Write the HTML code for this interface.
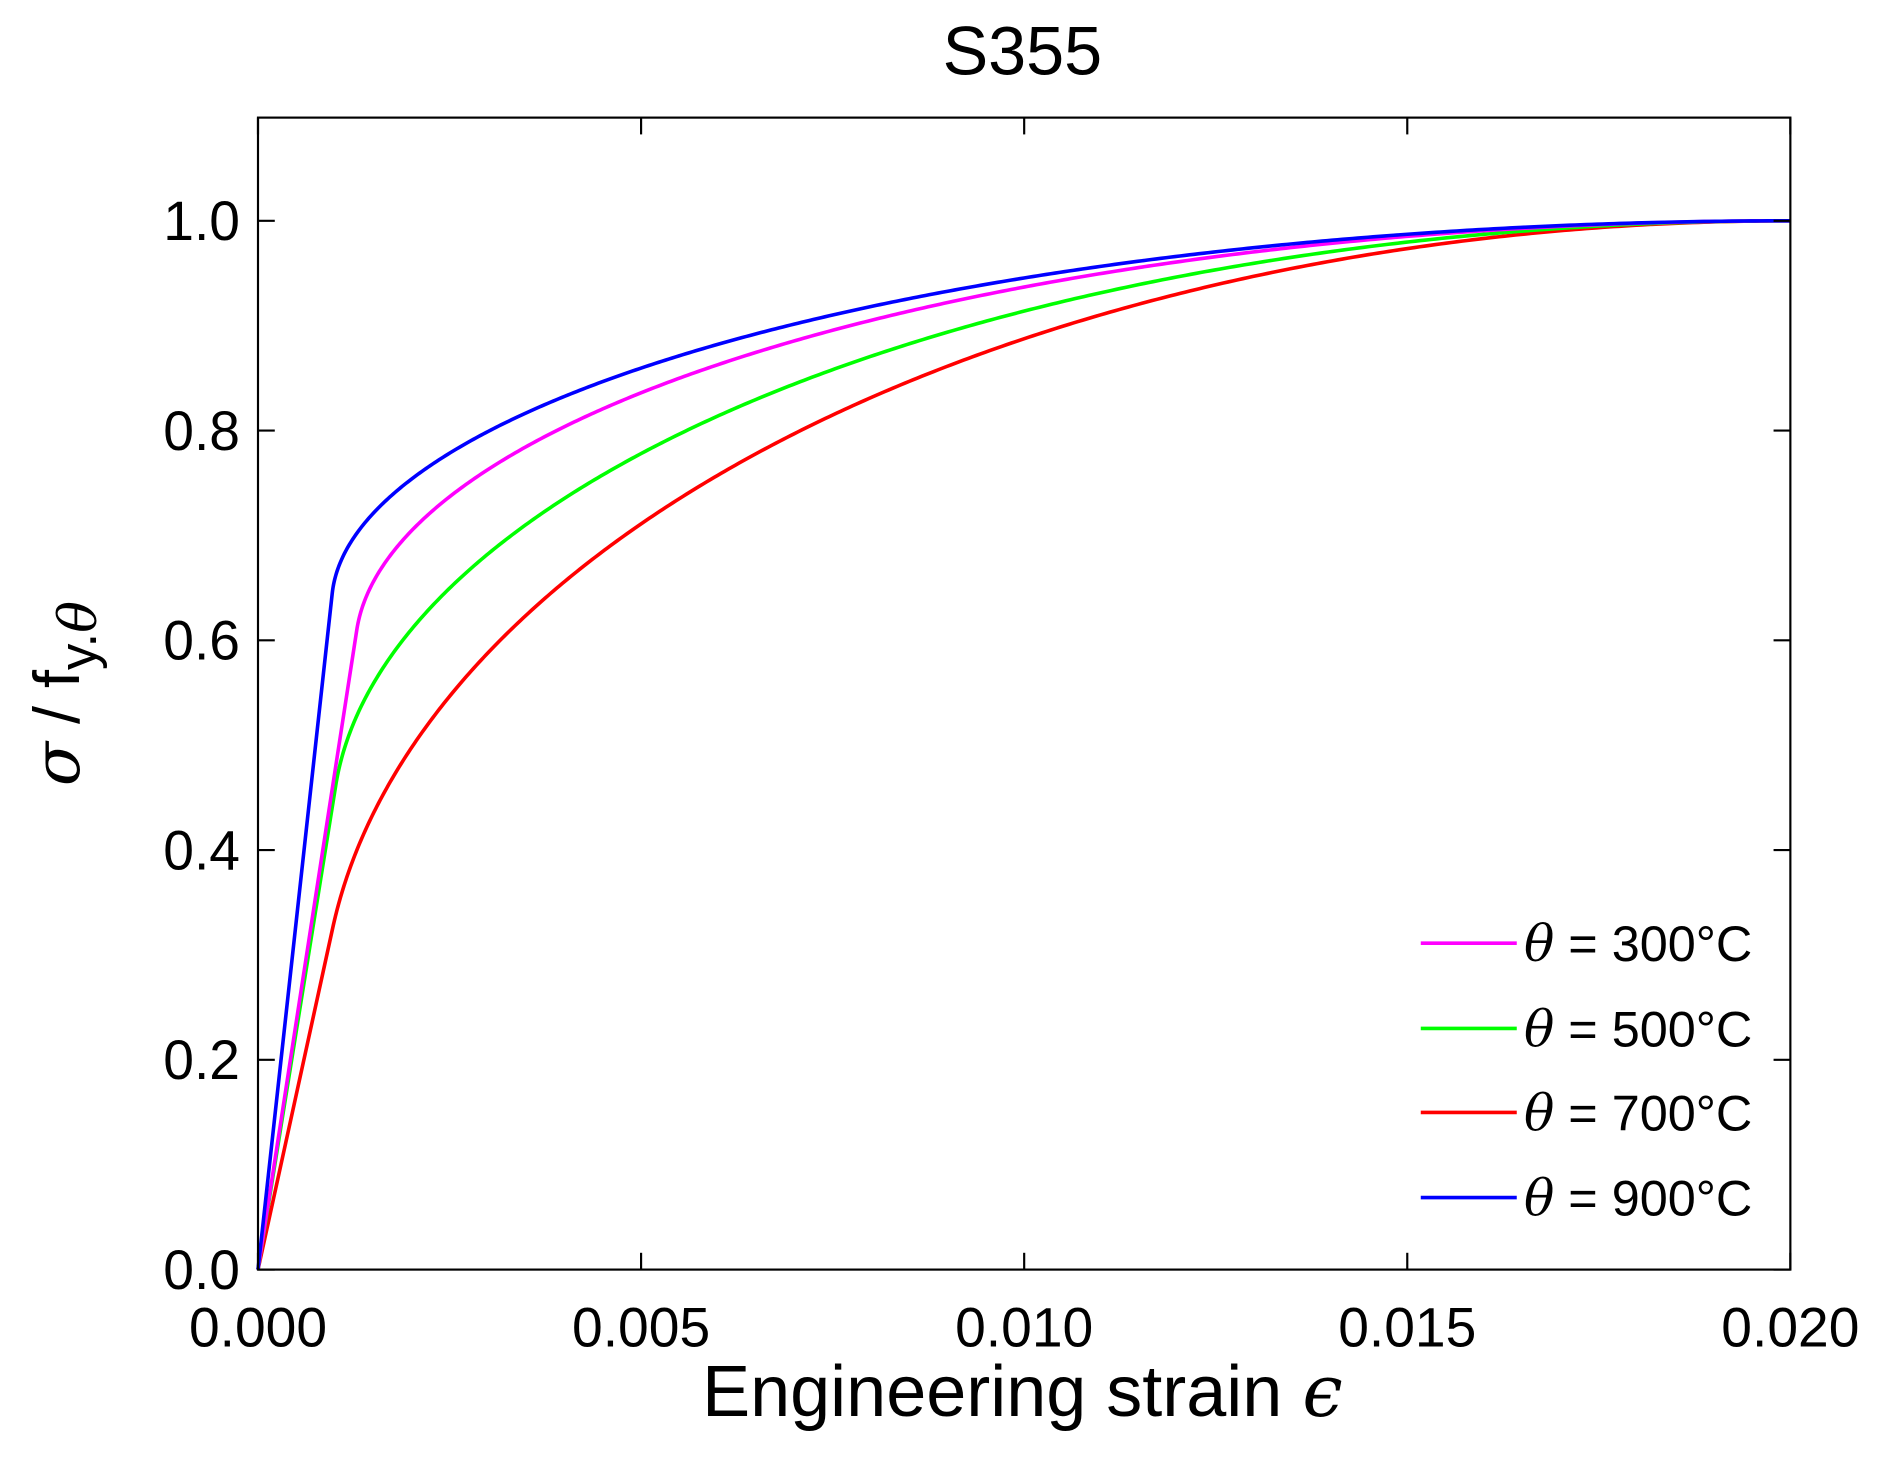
<!DOCTYPE html>
<html><head><meta charset="utf-8"><style>html,body{margin:0;padding:0;background:#fff}svg{display:block}</style></head>
<body>
<svg id="s" width="1880" height="1479" viewBox="0 0 1566.7 1232.5" xmlns="http://www.w3.org/2000/svg" font-family="Liberation Sans, DejaVu Sans, sans-serif">
<rect x="0" y="0" width="1566.7" height="1232.5" fill="#fff"/>
<text x="852" y="62" font-size="57" text-anchor="middle" textLength="133" lengthAdjust="spacingAndGlyphs">S355</text>
<g id="curves" fill="none" stroke-width="3"></g>
<rect x="215" y="98" width="1277" height="960" fill="none" stroke="#000" stroke-width="1.8"/>
<g id="ticks" stroke="#000" stroke-width="1.8"></g>
<g font-size="46" text-anchor="end" id="yl"></g>
<g font-size="46" text-anchor="middle" id="xl"></g>
<text x="852" y="1180" font-size="60" text-anchor="middle">Engineering strain <tspan font-family="DejaVu Serif, serif" font-style="italic">ϵ</tspan></text>
<text transform="translate(66,578) rotate(-90)" font-size="54" text-anchor="middle"><tspan font-family="DejaVu Serif, serif" font-style="italic">σ</tspan> / f<tspan dy="14" font-size="44">y.</tspan><tspan font-size="44" font-family="DejaVu Serif, serif" font-style="italic">θ</tspan></text>
<g stroke-width="3">
<line x1="1184" y1="786" x2="1264" y2="786" stroke="#ff00ff"/>
<line x1="1184" y1="857" x2="1264" y2="857" stroke="#00ff00"/>
<line x1="1184" y1="927" x2="1264" y2="927" stroke="#ff0000"/>
<line x1="1184" y1="998" x2="1264" y2="998" stroke="#0000ff"/>
</g>
<g font-size="42">
<text x="1270" y="801"><tspan font-family="DejaVu Serif, serif" font-style="italic">θ</tspan> = 300°C</text>
<text x="1270" y="872"><tspan font-family="DejaVu Serif, serif" font-style="italic">θ</tspan> = 500°C</text>
<text x="1270" y="942"><tspan font-family="DejaVu Serif, serif" font-style="italic">θ</tspan> = 700°C</text>
<text x="1270" y="1013"><tspan font-family="DejaVu Serif, serif" font-style="italic">θ</tspan> = 900°C</text>
</g>
</svg>
<script>
var NS="http://www.w3.org/2000/svg";
function X(e){return 215+e/0.02*1277;}
function Y(s){return 1058-s*874;}
function el(t,a,p){var e=document.createElementNS(NS,t);for(var k in a)e.setAttribute(k,a[k]);p.appendChild(e);return e;}
var series=[["#ff0000",0.326,334],["#00ff00",0.4615,455],["#ff00ff",0.61,473],["#0000ff",0.645,665.5]];
var g=document.getElementById("curves");
series.forEach(function(sr){
 var fp=sr[1],E=sr[2],ep=fp/E,ey=0.02;
 var c=(1-fp)*(1-fp)/((ey-ep)*E-2*(1-fp));
 var a=Math.sqrt((ey-ep)*(ey-ep+c/E)), b=Math.sqrt(c*(ey-ep)*E+c*c);
 var d="M"+X(0)+","+Y(0)+" L"+X(ep)+","+Y(fp);
 for(var i=1;i<=400;i++){var t=i/400;var e=ep+(ey-ep)*Math.pow(t,1.6);
  var s=fp-c+(b/a)*Math.sqrt(Math.max(0,a*a-(ey-e)*(ey-e)));d+=" L"+X(e).toFixed(2)+","+Y(s).toFixed(2);}
 el("path",{d:d,stroke:sr[0]},g);
});
var tk=document.getElementById("ticks"),yl=document.getElementById("yl"),xl=document.getElementById("xl");
for(var i=0;i<=5;i++){var y=Y(i*0.2);
 el("line",{x1:215,y1:y,x2:229,y2:y},tk);el("line",{x1:1478,y1:y,x2:1492,y2:y},tk);
 var t=el("text",{x:200,y:y+16},yl);t.textContent=(i*0.2).toFixed(1);}
for(var i=0;i<=4;i++){var x=X(i*0.005);
 el("line",{x1:x,y1:1058,x2:x,y2:1044},tk);el("line",{x1:x,y1:98,x2:x,y2:112},tk);
 var t=el("text",{x:x,y:1122},xl);t.textContent=(i*0.005).toFixed(3);}
</script>
</body></html>
